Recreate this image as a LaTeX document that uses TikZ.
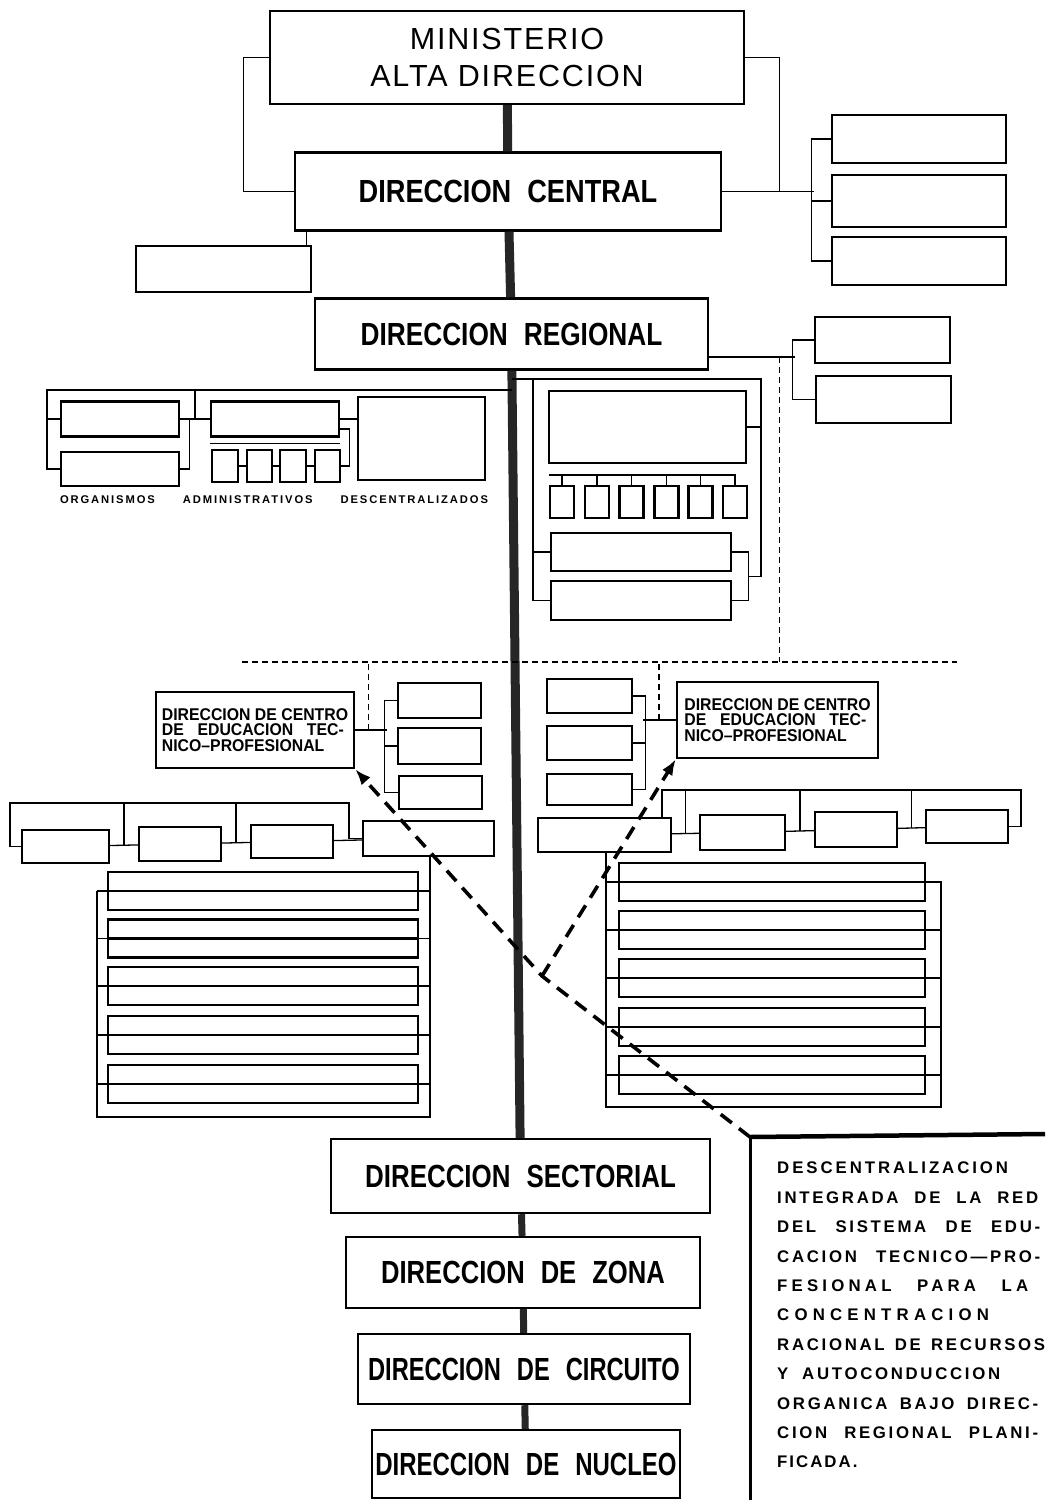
\documentclass[tikz,border=0pt]{standalone}
\usepackage{fontspec}
\newfontfamily\lbfont{Liberation Sans}
\usetikzlibrary{calc,arrows.meta}
\newcommand\fstr[1]{\addfontfeature{FakeStretch=#1}}
\newcommand\trk[1]{\addfontfeature{LetterSpace=#1}}
\newcommand\wsp{\hspace{16pt}}

\begin{document}
\begin{tikzpicture}[x=1pt,y=-1pt,
  box/.style args={#1x#2}{draw,line width=2.4pt,inner sep=0pt,
    minimum width=#1pt,minimum height=#2pt},
  dir/.style={font=\lbfont\bfseries\fontsize{32}{38}\selectfont},
  cen/.style={align=left,font=\lbfont\bfseries\fontsize{17}{15.5}\selectfont\fstr{0.93}},
  link/.style={line width=1.3pt},
  mid/.style={line width=2.4pt},
  dsh/.style={line width=1.4pt,dash pattern=on 6pt off 4pt},
  arr/.style={line width=3.6pt,dash pattern=on 14pt off 9pt,-{Latex[length=16pt,width=12pt]}},
  trunk/.style={line width=9pt,black!85}]
\fill[white] (0,0) rectangle (1045,1500);
\useasboundingbox (0,0) rectangle (1045,1500);

\node[box=474x93,align=center,font=\lbfont\fontsize{30.5}{36.5}\selectfont\trk{6}] (min) at (507,57.5) {MINISTERIO\\ALTA DIRECCION};
\node[box=426x78,dir] (dc) at (508,191.5) {\fstr{0.85}DIRECCION\wsp CENTRAL};
\node[box=393x71,dir] (dr) at (511.5,334) {\fstr{0.82}DIRECCION\wsp REGIONAL};
\node[box=379x74,dir] (ds) at (520.5,1176) {\fstr{0.81}DIRECCION\wsp SECTORIAL};
\node[box=354x71,dir] (dz) at (523,1272.5) {\fstr{0.8}DIRECCION\wsp DE\wsp ZONA};
\node[box=332x70,dir] (dci) at (524,1369) {\fstr{0.74}DIRECCION\wsp DE\wsp CIRCUITO};
\node[box=308x68,dir] (dn) at (526,1464) {\fstr{0.75}DIRECCION\wsp DE\wsp NUCLEO};

\node[box=174x48] (a1) at (919,139) {};
\node[box=174x52] (a2) at (919,201) {};
\node[box=174x48] (a3) at (919,261) {};
\node[box=175x46] (b0) at (223.5,269) {};
\node[box=135x46] (c1) at (882.5,340) {};
\node[box=135x47] (c2) at (883.5,399.5) {};

\node[box=118x35] (p1) at (120,419) {};
\node[box=118x34] (p2) at (120,469) {};
\node[box=128x35] (p3) at (275,419) {};
\node[box=26x32] (p4) at (225,466) {};
\node[box=25x32] (p5) at (259.5,466) {};
\node[box=26x32] (p6) at (293,466) {};
\node[box=25x32] (p7) at (327.5,466) {};
\node[box=127x83] (p8) at (421.5,438.5) {};
\node[font=\lbfont\bfseries\fontsize{11.2}{13}\selectfont\trk{17}] (lab) at (274,500)
  {\makebox[428pt][s]{ORGANISMOS ADMINISTRATIVOS DESCENTRALIZADOS}};

\node[box=197x72] (q1) at (647.5,427) {};
\node[box=24x32] (s1) at (562,502) {};
\node[box=24x32] (s2) at (597,502) {};
\node[box=24x32] (s3) at (631.5,502) {};
\node[box=24x32] (s4) at (666.5,502) {};
\node[box=24x32] (s5) at (700.5,502) {};
\node[box=24x32] (s6) at (735,502) {};
\node[box=180x38] (qa) at (641,552) {};
\node[box=180x39] (qb) at (641,600.5) {};

\node[box=198x76,cen] (e0) at (255,730) {DIRECCION DE CENTRO\\\makebox[182pt][s]{DE EDUCACION TEC-}\\NICO–PROFESIONAL};
\node[box=83x35] (e1) at (439.5,700.5) {};
\node[box=83x36] (e2) at (439.5,746) {};
\node[box=83x33] (e3) at (440.5,792.5) {};
\node[box=201x76,cen] (f0) at (777.5,720) {DIRECCION DE CENTRO\\\makebox[182pt][s]{DE EDUCACION TEC-}\\NICO–PROFESIONAL};
\node[box=85x34] (f1) at (589.5,696) {};
\node[box=85x34] (f2) at (589.5,743) {};
\node[box=85x31] (f3) at (589.5,789.5) {};

\node[box=87x33] (g1) at (65.5,846.5) {};
\node[box=82x34] (g2) at (180,844) {};
\node[box=82x33] (g3) at (292,841.5) {};
\node[box=131x35] (g4) at (428.5,838.5) {};
\node[box=133x34] (h1) at (604.5,835) {};
\node[box=85x35] (h2) at (742.5,832.5) {};
\node[box=82x35] (h3) at (856,829.5) {};
\node[box=82x33] (h4) at (967,826.5) {};

\node[box=310x38] (k1) at (263,891) {};
\node[box=310x38] (k2) at (263,938.5) {};
\node[box=310x38] (k3) at (263,986) {};
\node[box=310x38] (k4) at (263,1035) {};
\node[box=310x38] (k5) at (263,1084) {};
\node[box=306x38] (m1) at (772,882) {};
\node[box=306x38] (m2) at (772,930) {};
\node[box=306x38] (m3) at (772,978) {};
\node[box=306x38] (m4) at (772,1027) {};
\node[box=306x38] (m5) at (772,1075) {};

\node[anchor=north west,inner sep=0pt,align=left,
  font=\lbfont\bfseries\fontsize{16.8}{29.4}\selectfont] (nota) at (777,1162) {%
  {\trk{17.5}DESCENTRALIZACION}\\
  {\trk{16}\makebox[261pt][s]{INTEGRADA DE LA RED}}\\
  {\trk{16}\makebox[263pt][s]{DEL SISTEMA DE EDU-}}\\
  {\trk{16}\makebox[263pt][s]{CACION TECNICO—PRO-}}\\
  {\trk{25}\makebox[251pt][s]{FESIONAL PARA LA}}\\
  {\trk{31}CONCENTRACION}\\
  {\trk{16}\makebox[268pt][s]{RACIONAL DE RECURSOS}}\\
  {\trk{16}\makebox[223pt][s]{Y AUTOCONDUCCION}}\\
  {\trk{16}\makebox[261pt][s]{ORGANICA BAJO DIREC-}}\\
  {\trk{16}\makebox[261pt][s]{CION REGIONAL PLANI-}}\\
  {\trk{12}FICADA.}};

\coordinate (tl) at (512,390); \coordinate (pl) at (47,390);
\coordinate (tr) at (512,379); \coordinate (ur) at (761,379);
\coordinate (ul) at (533,379); \coordinate (sr) at (549,475);
\coordinate (gl) at (10,803); \coordinate (gr) at (349,803);
\coordinate (hl) at (662,790); \coordinate (hr) at (1021,790);
\coordinate (kb) at (97,1117); \coordinate (kc) at (430,1117);
\coordinate (mb) at (606,1107); \coordinate (mc) at (941,1107);
\coordinate (q0) at (242,662); \coordinate (q2) at (957,662);
\coordinate (nc) at (750,1137); \coordinate (ne) at (1045,1134);
\coordinate (nb) at (750,1500); \coordinate (xj) at (542,976);

\draw[trunk] (min) -- (dc);
\draw[trunk] (dc) -- (dr);
\draw[trunk] (dr) -- (ds);
\draw[trunk,line width=7pt] (ds) -- (dz);
\draw[trunk,line width=7pt] (dz) -- (dci);
\draw[trunk,line width=7pt] (dci) -- (dn);

\draw[link] (min.west) -- ++(-25,0) |- (dc.west);
\draw[link] (min.east) -- ++(34,0) |- (dc.east);
\draw[link] (dc.east) -- ++(92,0);
\draw[link] (a1.west) -- ++(-19,0) |- (a3.west);
\draw[link] (a2.west) -- ++(-19,0);
\coordinate (b0t) at ($(b0.north east)+(-6,0)$);
\draw[link] (b0t) -- (b0t |- dc.south);
\coordinate (drl) at ($(dr.east)+(0,23)$);
\draw[link] (drl) -- ++(86,0);
\draw[link] (c1.west) -- ++(-21,0) |- (c2.west);
\coordinate (dv) at ($(drl)+(70,0)$);

\draw[link] (tl) -- (pl) |- (p2.west);
\draw[link] (p1.west) -- (p1.west -| pl);
\draw[link] (p1.east) -- (p3.west);
\draw[link] (p2.east) -- ++(9,0) |- (p1.east);
\draw[link] ($(p1.east)!.5!(p3.west)$) |- (pl);
\draw[link] ([yshift=-6pt]p3.south west) -- ([yshift=-6pt]p3.south east);
\draw[link] (p4) -- (p5) -- (p6) -- (p7);
\draw[link] (p7.east) -- ++(8,0) |- ([yshift=-10pt]p3.east);
\draw[link] (p3.east) -- (p3.east -| p8.west);

\draw[link] (tr) -- (ur) |- ($(qa.east)!.5!(qb.east)+(16,0)$);
\draw[link] (q1.east) -- (q1.east -| ur);
\draw[link] (qa.east) -- ++(16,0) |- (qb.east);
\draw[link] (qb.west) -| (ul);
\draw[link] (qa.west) -- (qa.west -| ul);
\draw[link] (s6.north) |- (sr);
\draw[link] (s1.north) -- (s1.north |- sr);
\draw[link] (s2.north) -- (s2.north |- sr);
\draw[link] (s3.north) -- (s3.north |- sr);
\draw[link] (s4.north) -- (s4.north |- sr);
\draw[link] (s5.north) -- (s5.north |- sr);

\draw[dsh] (q0) -- (q2);
\draw[dsh] (dv) -- (dv |- q2);
\coordinate (e0x) at ($(e0.east)+(13,0)$);
\coordinate (f0x) at ($(f0.west)+(-17,0)$);
\draw[dsh] (e0x) -- (e0x |- q0);
\draw[dsh] (f0x) -- (f0x |- q0);

\draw[link] (e0.east) -- ++(32,0);
\draw[link] (e1.west) -- ++(-12,0) |- (e3.west);
\draw[link] (e2.west) -- ++(-12,0);
\draw[link] (f0.west) -- ++(-33,0);
\draw[link] (f1.east) -- ++(12,0) |- (f3.east);
\draw[link] (f2.east) -- ++(12,0);

\draw[link] (g1) -- (g2) -- (g3) -- (g4);
\draw[link] (g1.west) -| (gl) -- (gr) |- (g4.west);
\draw[link] ($(g1.east)!.5!(g2.west)$) |- (gl);
\draw[link] ($(g2.east)!.5!(g3.west)$) |- (gl);
\draw[link] (h1) -- (h2) -- (h3) -- (h4);
\draw[link] (h4.east) -| (hr) -- (hl) -- (hl |- h1.north);
\draw[link] ($(h1.east)!.5!(h2.west)$) |- (hl);
\draw[link] ($(h2.east)!.5!(h3.west)$) |- (hl);
\draw[link] ($(h3.east)!.5!(h4.west)$) |- (hl);

\draw[link] (k1.west -| kb) -- (kb) -- (kc) |- (g4.south);
\draw[link] (k1.west -| kb) -- (k1.east -| kc);
\draw[link] (k2.west -| kb) -- (k2.east -| kc);
\draw[link] (k3.west -| kb) -- (k3.east -| kc);
\draw[link] (k4.west -| kb) -- (k4.east -| kc);
\draw[link] (k5.west -| kb) -- (k5.east -| kc);
\draw[mid] (k1.west) -- (k1.east);
\draw[mid] (k2.west) -- (k2.east);
\draw[mid] (k3.west) -- (k3.east);
\draw[mid] (k4.west) -- (k4.east);
\draw[mid] (k5.west) -- (k5.east);
\draw[link] (h1.south -| mb) -- (mb) -- (mc) |- (m1.east);
\draw[link] (m1.west -| mb) -- (m1.east -| mc);
\draw[link] (m2.west -| mb) -- (m2.east -| mc);
\draw[link] (m3.west -| mb) -- (m3.east -| mc);
\draw[link] (m4.west -| mb) -- (m4.east -| mc);
\draw[link] (m5.west -| mb) -- (m5.east -| mc);
\draw[mid] (m1.west) -- (m1.east);
\draw[mid] (m2.west) -- (m2.east);
\draw[mid] (m3.west) -- (m3.east);
\draw[mid] (m4.west) -- (m4.east);
\draw[mid] (m5.west) -- (m5.east);

\draw[line width=4.5pt] (nc) -- (ne);
\draw[line width=3pt] (nc) -- (nb);
\draw[arr] (nc) -- (xj) -- (e0.south east);
\draw[arr] (xj) -- (f0.south west);
\end{tikzpicture}
\end{document}
